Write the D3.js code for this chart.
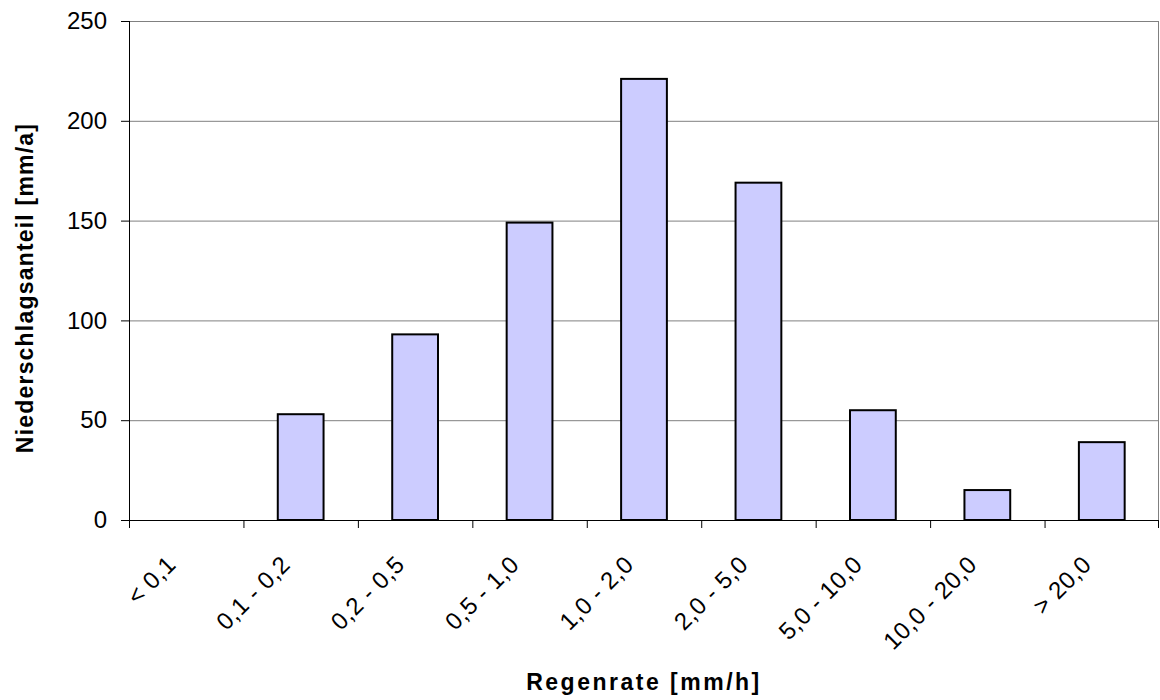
<!DOCTYPE html>
<html>
<head>
<meta charset="utf-8">
<script src="https://cdnjs.cloudflare.com/ajax/libs/d3/7.8.5/d3.min.js"></script>
<style>
    body { margin: 0; background: #fff; }
    svg text { font-family: "Liberation Sans", Arial, sans-serif; }
</style>
</head>
<body>
<svg id="chart"></svg>
<script>
// data
var categories = ['< 0,1', '0,1 - 0,2', '0,2 - 0,5', '0,5 - 1,0', '1,0 - 2,0',
    '2,0 - 5,0', '5,0 - 10,0', '10,0 - 20,0', '> 20,0'];
var values = [0, 53, 93, 149, 221, 169, 55, 15, 39];
var yTicks = [0, 50, 100, 150, 200, 250];

var width = 1160;
var height = 700;
var margin = {top: 21, bottom: 180, left: 129, right: 1};

var svg = d3.select('#chart')
    .attr('width', width)
    .attr('height', height);

var xScale = d3.scaleBand()
    .range([margin.left, width - margin.right])
    .padding(0)
    .domain(categories);

var yScale = d3.scaleLinear()
    .range([height - margin.bottom, margin.top])
    .domain([0, 250]);

// gridlines
svg.append('g')
    .selectAll('line')
    .data(yTicks.slice(1))
    .enter().append('line')
    .attr('x1', margin.left)
    .attr('x2', width - margin.right)
    .attr('y1', function (d) { return yScale(d) + 0.5; })
    .attr('y2', function (d) { return yScale(d) + 0.5; })
    .style('stroke', '#808080')
    .style('stroke-width', 1);

// right border
svg.append('line')
    .attr('x1', width - margin.right - 0.5)
    .attr('x2', width - margin.right - 0.5)
    .attr('y1', margin.top)
    .attr('y2', height - margin.bottom)
    .style('stroke', '#808080');

// bars
var barW = xScale.bandwidth() * 0.4;
svg.selectAll('.bar')
    .data(values)
    .enter().append('rect')
    .attr('class', 'bar')
    .attr('x', function (d, i) {
        return xScale(categories[i]) + (xScale.bandwidth() - barW) / 2;
    })
    .attr('y', function (d) { return yScale(d); })
    .attr('width', barW)
    .attr('height', function (d) { return yScale(0) - yScale(d); })
    .style('fill', '#ccccff')
    .style('stroke', '#000')
    .style('stroke-width', 2)
    .style('display', function (d) { return d > 0 ? null : 'none'; });

// y axis
var yAxis = svg.append('g')
    .attr('transform', 'translate(' + margin.left + ',0)')
    .call(d3.axisLeft(yScale).tickValues(yTicks).tickSize(8).tickPadding(14));
yAxis.select('.domain').style('stroke', '#000').attr('d', 'M0.5,' + margin.top + 'V' + (yScale(0) + 0.5));
yAxis.selectAll('.tick line').style('stroke', '#000');
yAxis.selectAll('text')
    .style('font-size', '24px')
    .attr('font-family', '"Liberation Sans", Arial, sans-serif')
    .style('fill', '#000');

// x axis, ticks sit on the band edges
var xAxisG = svg.append('g')
    .attr('transform', 'translate(0,' + (height - margin.bottom) + ')');
xAxisG.append('line')
    .attr('x1', margin.left - 8)
    .attr('x2', width - margin.right)
    .attr('y1', 0.5).attr('y2', 0.5)
    .style('stroke', '#000');
xAxisG.selectAll('.xtick')
    .data(categories.concat(['end']))
    .enter().append('line')
    .attr('class', 'xtick')
    .attr('x1', function (d, i) { return i < categories.length ? xScale(d) + 0.5 : width - margin.right - 0.5; })
    .attr('x2', function (d, i) { return i < categories.length ? xScale(d) + 0.5 : width - margin.right - 0.5; })
    .attr('y1', 0)
    .attr('y2', 8)
    .style('stroke', '#000');

xAxisG.selectAll('.xlabel')
    .data(categories)
    .enter().append('text')
    .attr('class', 'xlabel')
    .attr('text-anchor', 'end')
    .style('font-size', '24px')
    .style('letter-spacing', '0.5px')
    .style('fill', '#000')
    .attr('transform', function (d) {
        var cx = xScale(d) + xScale.bandwidth() / 2 - 9;
        return 'translate(' + cx + ',46)rotate(-45)';
    })
    .text(function (d) { return d; });

// axis titles
svg.append('text')
    .attr('x', (margin.left + width - margin.right) / 2)
    .attr('y', 690)
    .attr('text-anchor', 'middle')
    .style('font-size', '23px')
    .style('font-weight', 'bold')
    .style('letter-spacing', '2.5px')
    .style('fill', '#000')
    .text('Regenrate [mm/h]');

svg.append('text')
    .attr('transform', 'translate(33,288)rotate(-90)')
    .attr('text-anchor', 'middle')
    .style('font-size', '23px')
    .style('font-weight', 'bold')
    .style('letter-spacing', '1.2px')
    .style('fill', '#000')
    .text('Niederschlagsanteil [mm/a]');
</script>
</body>
</html>
